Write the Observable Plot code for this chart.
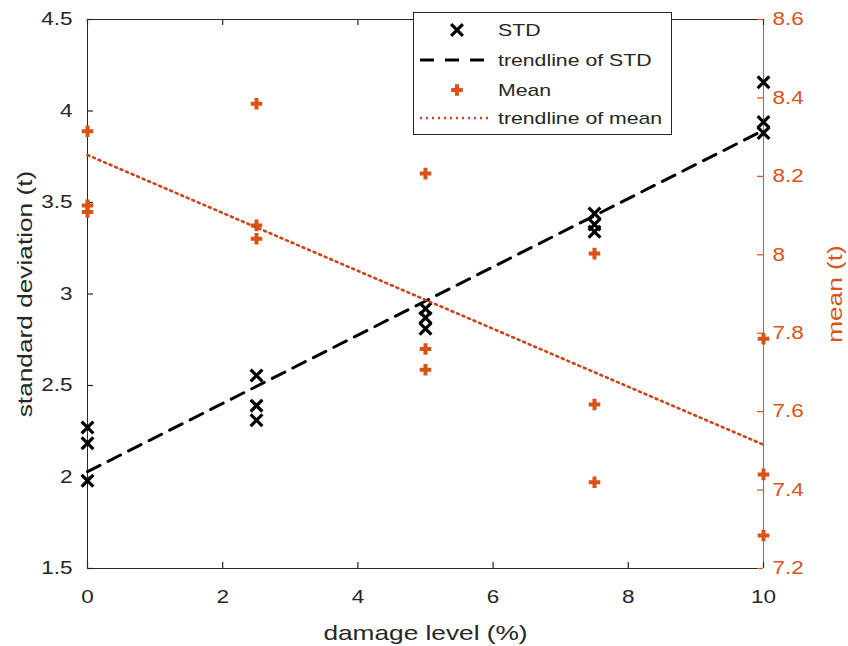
<!DOCTYPE html>
<html><head><meta charset="utf-8">
<script src="https://cdn.jsdelivr.net/npm/d3@7"></script>
<script src="https://cdn.jsdelivr.net/npm/@observablehq/plot@0.6"></script>
<style>
html,body{margin:0;padding:0;background:#fff;}
#chart{width:848px;height:646px;}
</style></head><body><div id="chart"></div>
<script>
// ---- data ----
const damageLevel = [0, 0, 0, 2.5, 2.5, 2.5, 5, 5, 5, 7.5, 7.5, 7.5, 10, 10, 10];
const stdValues   = [2.27, 2.185, 1.98, 2.555, 2.39, 2.31, 2.92, 2.87, 2.81, 3.44, 3.38, 3.34, 4.157, 3.94, 3.88];
const meanValues  = [8.315, 8.126, 8.109, 8.385, 8.075, 8.041, 8.207, 7.76, 7.707, 8.003, 7.618, 7.42, 7.786, 7.44, 7.284];
const xTicks      = [0, 2, 4, 6, 8, 10];
const leftTicks   = [1.5, 2, 2.5, 3, 3.5, 4, 4.5];
const rightTicks  = [7.2, 7.4, 7.6, 7.8, 8, 8.2, 8.4, 8.6];
const xDomain     = [0, 10];
const leftDomain  = [1.5, 4.5];
const rightDomain = [7.2, 8.6];
const legendLabels = ["STD", "trendline of STD", "Mean", "trendline of mean"];
const xLabel = "damage level (%)";
const leftLabel = "standard deviation (t)";
const rightLabel = "mean (t)";

const ORANGE = "#D95319";
const DOT = "#C9461A";
const INK = "#262626";
const FONT = "'Liberation Sans', Arial, Helvetica, sans-serif";
const STRETCH = 1.25;

const W = 848, H = 646, ML = 87, MR = 85, MT = 19, MB = 78;
const FW = W - ML - MR, FH = H - MT - MB, TL = 6; // frame size, tick length

// map right-axis values into the left-axis units
const toLeft = d3.scaleLinear(rightDomain, leftDomain);
const rows = damageLevel.map((d, i) => ({damage: d, std: stdValues[i], meanL: toLeft(meanValues[i])}));
const rightMapped = rightTicks.map(t => toLeft(t));

const chart = Plot.plot({
  width: W, height: H,
  marginLeft: ML, marginRight: MR, marginTop: MT, marginBottom: MB,
  style: {fontFamily: FONT, background: "#fff", color: INK},
  x: {domain: xDomain},
  y: {domain: leftDomain},
  marks: [
    // frame
    Plot.ruleY([leftDomain[0], leftDomain[1]], {stroke: INK, strokeWidth: 1}),
    Plot.ruleX([xDomain[0]], {stroke: INK, strokeWidth: 1}),
    Plot.ruleX([xDomain[1]], {stroke: ORANGE, strokeWidth: 1}),
    // inward ticks
    Plot.tickX(xTicks, {x: d => d, insetTop: FH - TL, stroke: INK, strokeWidth: 1.2}),
    Plot.tickX(xTicks, {x: d => d, insetBottom: FH - TL, stroke: INK, strokeWidth: 1.2}),
    Plot.tickY(leftTicks, {y: d => d, insetRight: FW - TL, stroke: INK, strokeWidth: 1.2}),
    Plot.tickY(rightMapped, {y: d => d, insetLeft: FW - TL, stroke: ORANGE, strokeWidth: 1.2}),
    // tick labels
    Plot.axisX(xTicks, {anchor: "bottom", tickSize: 0, tickPadding: 22, fontSize: 18, fill: INK, label: null, tickFormat: d => String(d)}),
    Plot.axisY(leftTicks, {anchor: "left", tickSize: 0, tickPadding: 15, fontSize: 18, fill: INK, label: null, tickFormat: d => String(d)}),
    Plot.axisY(rightMapped, {anchor: "right", tickSize: 0, tickPadding: 9, fontSize: 18, fill: ORANGE, label: null,
      tickFormat: d => String(+toLeft.invert(d).toFixed(1))}),
    // axis titles
    Plot.text([xLabel], {frameAnchor: "bottom", dy: 65, textAnchor: "middle", lineAnchor: "middle", fontSize: 21, fill: INK}),
    Plot.text([leftLabel], {frameAnchor: "left", dx: -62, rotate: -90, textAnchor: "middle", lineAnchor: "middle", fontSize: 21, fill: INK}),
    Plot.text([rightLabel], {frameAnchor: "right", dx: 72, rotate: -90, textAnchor: "middle", lineAnchor: "middle", fontSize: 21, fill: ORANGE}),
    // data
    Plot.dot(rows, {x: "damage", y: "std", symbol: "times", r: 5.4, stroke: "#000", strokeWidth: 3.2}),
    Plot.linearRegressionY(rows, {x: "damage", y: "std", ci: 0, stroke: "#000", strokeWidth: 3, strokeDasharray: "14,9"}),
    Plot.dot(rows, {x: "damage", y: "meanL", symbol: "plus", r: 3.8, stroke: ORANGE, strokeWidth: 4}),
    Plot.linearRegressionY(rows, {x: "damage", y: "meanL", ci: 0, stroke: DOT, strokeWidth: 2.6, strokeDasharray: "2,4"})
  ]
});
document.getElementById("chart").appendChild(chart);

// ---- legend ----
const svg = d3.select(chart);
const lg = svg.append("g").attr("class", "legend");
lg.append("rect").attr("x", 413.5).attr("y", 12.5).attr("width", 258).attr("height", 122)
  .attr("fill", "#fff").attr("stroke", INK).attr("stroke-width", 1);
const rowsY = [30, 60, 90, 118];
const symX = 457, lineX1 = 420, lineX2 = 492, textX = 498;
lg.append("path").attr("transform", `translate(${symX},${rowsY[0]})`)
  .attr("d", d3.symbol(d3.symbolTimes, 5.4 * 5.4 * Math.PI)())
  .attr("fill", "none").attr("stroke", "#000").attr("stroke-width", 3.2);
lg.append("line").attr("x1", lineX1).attr("x2", lineX2).attr("y1", rowsY[1]).attr("y2", rowsY[1])
  .attr("stroke", "#000").attr("stroke-width", 3).attr("stroke-dasharray", "14,11");
lg.append("path").attr("transform", `translate(${symX},${rowsY[2]})`)
  .attr("d", d3.symbol(d3.symbolPlus, 3.8 * 3.8 * Math.PI)())
  .attr("fill", "none").attr("stroke", ORANGE).attr("stroke-width", 4);
lg.append("line").attr("x1", lineX1).attr("x2", lineX2).attr("y1", rowsY[3]).attr("y2", rowsY[3])
  .attr("stroke", DOT).attr("stroke-width", 2.6).attr("stroke-dasharray", "2,4");
legendLabels.forEach((t, i) => {
  lg.append("text").attr("transform", `translate(${textX},${rowsY[i]})`).attr("dy", "0.35em")
    .attr("text-anchor", "start")
    .attr("font-size", 17).attr("font-family", FONT).attr("fill", INK).text(t);
});

// ---- widen glyphs along their reading direction (reference font is wide) ----
chart.querySelectorAll("text").forEach(t => {
  const tr = t.getAttribute("transform") || "";
  const xa = t.getAttribute("x");
  let extra = "";
  if (xa != null && xa !== "" && !isNaN(+xa)) { extra = ` translate(${+xa},0)`; t.removeAttribute("x"); }
  t.setAttribute("transform", `${tr}${extra} scale(${STRETCH},1)`);
});
</script></body></html>
